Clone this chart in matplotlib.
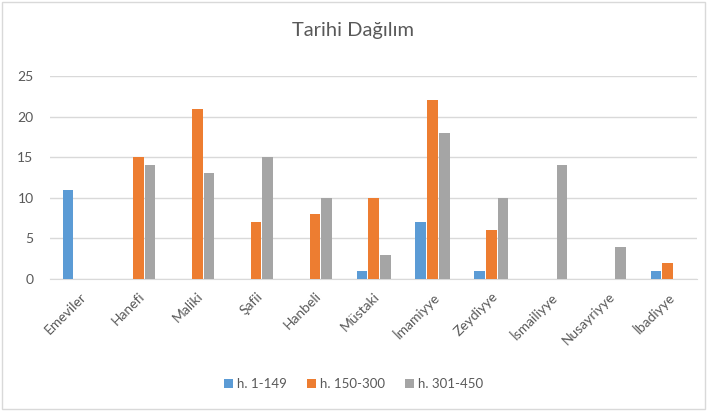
import matplotlib
matplotlib.use('Agg')
import matplotlib.pyplot as plt
import numpy as np
from matplotlib.patches import Rectangle

plt.rcParams['font.family'] = ['Lato', 'DejaVu Sans']

categories = ['Emeviler', 'Hanefi', 'Maliki', 'Şafii', 'Hanbeli', 'Müstaki',
              'İmamiyye', 'Zeydiyye', 'İsmailiyye', 'Nusayriyye', 'İbadiyye']
h1_149   = [11, 0, 0, 0, 0, 1, 7, 1, 0, 0, 1]
h150_300 = [0, 15, 21, 7, 8, 10, 22, 6, 0, 0, 2]
h301_450 = [0, 14, 13, 15, 10, 3, 18, 10, 14, 4, 0]
series_names = ['h. 1-149', 'h. 150-300', 'h. 301-450']
colors = ['#5B9BD5', '#ED7D31', '#A5A5A5']
yticks = [0, 5, 10, 15, 20, 25]

txt = '#595959'
fig = plt.figure(figsize=(7.07, 4.11), dpi=100)
fig.patches.append(Rectangle((0.003, 0.005), 0.994, 0.99, transform=fig.transFigure,
                             fill=False, edgecolor='#D9D9D9', linewidth=1))
ax = fig.add_axes([0.071, 0.321, 0.915, 0.494])

x = np.arange(len(categories))
w = 0.18
for i, vals in enumerate([h1_149, h150_300, h301_450]):
    v = np.array(vals, dtype=float)
    mask = v > 0
    ax.bar(x[mask] + (i - 1) * 0.2, v[mask], width=w, color=colors[i],
           label=series_names[i], zorder=3)

ax.set_xlim(-0.5, len(categories) - 0.5)
ax.set_ylim(0, 25)
ax.set_yticks(yticks)
ax.grid(axis='y', color='#D9D9D9', linewidth=1, zorder=0)
for s in ['top', 'right', 'left']:
    ax.spines[s].set_visible(False)
ax.spines['bottom'].set_color('#D9D9D9')
ax.tick_params(axis='both', length=0, colors=txt, labelsize=10)
ax.tick_params(axis='y', pad=12)
ax.set_xticks(x)
ax.set_xticklabels(categories, rotation=45, ha='right', rotation_mode='anchor')
ax.tick_params(axis='x', pad=8)

fig.text(0.5, 0.925, 'Tarihi Dağılım', ha='center', va='center', fontsize=14.5, color=txt)
fig.legend(loc='center', bbox_to_anchor=(0.5, 0.066), ncol=3, frameon=False,
           fontsize=9.5, labelcolor=txt, handlelength=0.7, handleheight=0.7,
           handletextpad=0.3, columnspacing=1.5)

fig.savefig('out.png', dpi=100)
